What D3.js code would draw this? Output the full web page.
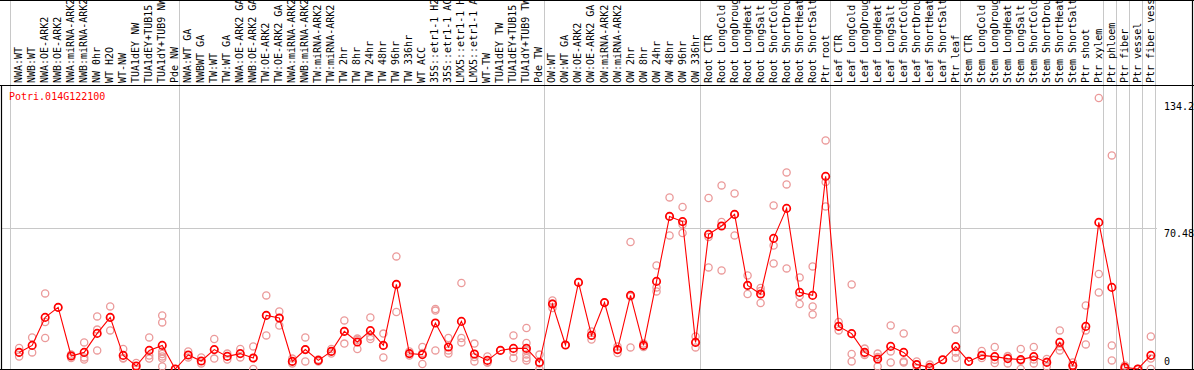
<!DOCTYPE html>
<html>
<head>
<meta charset="utf-8">
<script src="https://cdn.jsdelivr.net/npm/d3@7"></script>
<style>
	html, body { margin: 0; padding: 0; background: #fff; }
	svg { display: block; }
	text { font-family: "DejaVu Sans Mono", "Liberation Mono", monospace; font-size: 10px; }
</style>
</head>
<body>
<div id="chart"></div>
<script>
	'use strict';

	var geneName = 'Potri.014G122100';

	var labels = [
		'NWA:WT', 'NWB:WT', 'NWA:OE-ARK2', 'NWB:OE-ARK2', 'NWA:miRNA-ARK2', 'NWB:miRNA-ARK2', 'NW 0hr', 'WT H2O', 'WT-NW',
		'TUA1dEY NW', 'TUA1dEY+TUB15 NW', 'TUA1dY+TUB9 NW', 'Pde NW',
		'NWA:WT GA', 'NWBWT GA', 'TW:WT', 'TW:WT GA', 'NWA:OE-ARK2 GA', 'NWB:OE-ARK2 GA', 'TW:OE-ARK2', 'TW:OE-ARK2 GA',
		'NWA:miRNA-ARK2', 'NWB:miRNA-ARK2', 'TW:miRNA-ARK2', 'TW:miRNA-ARK2', 'TW 2hr', 'TW 8hr', 'TW 24hr', 'TW 48hr',
		'TW 96hr', 'TW 336hr', 'WT ACC', '35S::etr1-1 H2O', '35S::etr1-1 ACC', 'LMX5::etr1-1 H2O', 'LMX5::etr1-1 ACC',
		'WT-TW', 'TUA1dEY TW', 'TUA1dEY+TUB15 TW', 'TUA1dY+TUB9 TW', 'Pde TW',
		'OW:WT', 'OW:WT GA', 'OW:OE-ARK2', 'OW:OE-ARK2 GA', 'OW:miRNA-ARK2', 'OW:miRNA-ARK2', 'OW 2hr', 'OW 8hr',
		'OW 24hr', 'OW 48hr', 'OW 96hr', 'OW 336hr',
		'Root CTR', 'Root LongCold', 'Root LongDrought', 'Root LongHeat', 'Root LongSalt', 'Root ShortCold',
		'Root ShortDrought', 'Root ShortHeat', 'Root ShortSalt', 'Ptr root',
		'Leaf CTR', 'Leaf LongCold', 'Leaf LongDrought', 'Leaf LongHeat', 'Leaf LongSalt', 'Leaf ShortCold',
		'Leaf ShortDrought', 'Leaf ShortHeat', 'Leaf ShortSalt', 'Ptr leaf',
		'Stem CTR', 'Stem LongCold', 'Stem LongDrought', 'Stem LongHeat', 'Stem LongSalt', 'Stem ShortCold',
		'Stem ShortDrought', 'Stem ShortHeat', 'Stem ShortSalt', 'Ptr shoot', 'Ptr xylem',
		'Ptr phloem', 'Ptr fiber', 'Ptr vessel', 'Ptr fiber vessel'
	];

	// first column of each block (last entry closes the chart)
	var groupStarts = [0, 13, 41, 53, 63, 73, 84, 85, 86, 87, 88];

	var means = [
		8.3, 11.8, 25.8, 30.8, 6.5, 8.3, 17.8, 25.8, 6.8, 1.5, 9.3, 11.8, 0,
		7, 4, 9.7, 6.3, 7.7, 5.5, 26.8, 25.5, 3.8, 9.7, 4.3, 8.8, 18.8, 13.5, 19.2, 11.8, 42.3, 7.7, 7.2, 23,
		11, 23.8, 7.5, 4.3, 9.3, 10.3, 10.3, 3.3,
		32.5, 12, 43.3, 16.8, 33.2, 9.7, 36.8, 11.8, 43.8, 76.3, 73.7, 13.3,
		67.3, 71.5, 77.3, 41.8, 37.5, 65.3, 80.3, 38.3, 36.8, 96.3,
		21.3, 17.7, 8.3, 5, 11.3, 8.3, 2.2, 0.8, 4.6, 11.2,
		3.8, 6.8, 6.2, 5.2, 4.7, 6.2, 3.3, 13.3, 1.7, 21.3, 73.3,
		40.8, 0.8, 0, 6.8
	];

	var replicates = [
		[10.5, 8.3, 6.2], [15.8, 8.3], [37.8, 23.5, 15.5], [30.8], [7.2, 5.5], [13.3, 5.8, 4.7],
		[26.3, 19.7, 9.3], [31.3, 25.8, 19.3], [10, 5.5, 5.2], [3, 0], [15.8, 6.7, 5.2],
		[26.8, 23.3, 8.8, 7.5, 6.3, 5.2, 1.3], [0],
		[8.8, 5.8], [5.8, 2.8], [15, 5.2], [7.7, 4.7], [10, 5.8], [11.3, 5.5, 0], [36.8, 26.8, 16.8],
		[28.8, 25.5, 21.7], [5.2, 3.8, 2.8], [15.8, 9.7, 3.8], [4.7, 4.3, 3.8], [10, 8.8, 7.7],
		[24.3, 18.8, 12.7], [15.2, 14.5, 10], [25.8, 16.3, 15], [17.7, 11.8, 5.8], [56.3, 42.3, 28.5],
		[8.8, 7.7, 6.7], [11, 8, 2.5], [30, 29.2, 9.3], [15.5, 9.3, 7.7], [43, 15.5, 13.3],
		[12.7, 6, 3.8], [6.3, 3.3, 3.3], [9.3], [16.8, 8.6, 5.5], [20.5, 13, 9.3, 7.2, 5.5, 4.3], [7.2, 2.8, 0],
		[34.3, 32.7, 30.5], [12], [43.3], [18.8, 16.8, 14.7], [33.2], [11.3, 9.7, 8], [63.5, 36.2, 10.8],
		[12.7, 11.8, 11], [51.8, 40.8, 38.8], [85.8, 76.3, 66.8], [81, 72.2, 68], [16.3, 13.3, 10.8],
		[85.5, 66, 50.8], [91.8, 73.5, 49.3], [87.8, 77.3, 66.8], [46.8, 41.8, 37.5], [40.5, 39, 33],
		[81.8, 61.7, 52.8], [98.3, 92.3, 50.3], [45.8, 36.5, 32.5], [51.3, 31.3, 27.3], [114.3, 93.5, 81.3],
		[23.5, 21.3, 19.3], [42.3, 7.5, 3.8], [10.2, 7.7, 7], [7.7, 6, 1.3], [21.8, 8.8, 3.3], [17.8, 3.8, 3.3],
		[3.8, 2.2, 0.6], [2.2, 0.3, 0], [4.6], [19.8, 8.3, 5.5],
		[3.8], [9, 6.8, 5.5], [11, 4.6, 3], [6.3, 6.5, 2.8], [10, 4.1, 0], [11, 4.8, 2.8], [5, 3.6, 1.3],
		[19.3, 11.3, 9.3], [3.3, 1.8, 0], [31.8, 19.3, 12.3], [135.5, 47.5, 38.3],
		[106.8, 11.8, 4.3], [1.8, 0.6, 0], [0, 0], [16.3, 5.2, 0]
	];

	var yTicks = [0, 70.48, 134.2];

	var width = 1194,
		height = 370,
		labelBottom = 83,
		plotTop = 85,
		plotBottom = 369,
		plotRight = 1155,
		maxChars = 14; // header only has room for this many characters

	var svg = d3.select('#chart')
		.append('svg')
			.attr('width', width)
			.attr('height', height);

	var idx = d3.range(labels.length);

	var x = d3.scaleBand()
		.domain(idx)
		.range([10.3, plotRight]);

	// marks sit a little right of the column middle, like the original
	function cx(i) { return x(i) + x.step() * 0.68; }
	function colEdge(k) { return k < labels.length ? x(k) : x.range()[1]; }

	var y = d3.scaleLinear()
		.domain([0, 134.2])
		.range([plotBottom, plotBottom - 134.2 * 2.0]);

	// grid
	svg.selectAll('line.vgrid')
		.data(groupStarts).enter()
		.append('line')
			.attr('class', 'vgrid')
			.attr('x1', function(k) { return Math.round(colEdge(k)) + 0.5; })
			.attr('x2', function(k) { return Math.round(colEdge(k)) + 0.5; })
			.attr('y1', 0)
			.attr('y2', height)
			.attr('stroke', '#c8c8c8')
			.attr('stroke-width', 1);

	svg.append('line')
		.attr('x1', 1)
		.attr('x2', plotRight + 2)
		.attr('y1', Math.round(y(70.48)) + 0.5)
		.attr('y2', Math.round(y(70.48)) + 0.5)
		.attr('stroke', '#c8c8c8');

	// frame
	var frame = svg.append('g')
		.attr('stroke', '#000')
		.attr('stroke-width', 1.2);
	frame.append('line').attr('x1', 0).attr('x2', width).attr('y1', 0.5).attr('y2', 0.5);
	frame.append('line').attr('x1', 0).attr('x2', width).attr('y1', plotTop + 0.5).attr('y2', plotTop + 0.5);
	frame.append('line').attr('x1', 0).attr('x2', width).attr('y1', plotBottom + 0.5).attr('y2', plotBottom + 0.5);
	frame.append('line').attr('x1', 1.5).attr('x2', 1.5).attr('y1', plotTop).attr('y2', height);
	frame.append('line').attr('x1', width - 1.5).attr('x2', width - 1.5).attr('y1', 0).attr('y2', height);

	// column labels, shortened to what fits in the header band
	svg.selectAll('text.col')
		.data(idx).enter()
		.append('text')
			.attr('class', 'col')
			.attr('transform', function(i) { return 'translate(' + (cx(i) - 0.5) + ',' + labelBottom + ') rotate(-90)'; })
			.attr('dominant-baseline', 'central')
			.attr('fill', '#000')
			.text(function(i) { return labels[i].slice(0, maxChars).replace(/\s+$/, ''); })
			.append('title')
				.text(function(i) { return labels[i]; });

	// y axis labels on the right
	svg.selectAll('text.ytick')
		.data(yTicks).enter()
		.append('text')
			.attr('class', 'ytick')
			.attr('x', 1164)
			.attr('y', function(d) { return d === 0 ? y(d) - 4 : y(d) + 9; })
			.attr('fill', '#000')
			.text(function(d) { return d; });

	svg.append('text')
		.attr('x', 9)
		.attr('y', 100)
		.attr('fill', '#ff0000')
		.text(geneName);

	// replicate points
	var reps = [];
	replicates.forEach(function(list, i) {
		list.forEach(function(v) { reps.push({i: i, v: v}); });
	});

	svg.selectAll('circle.rep')
		.data(reps).enter()
		.append('circle')
			.attr('class', 'rep')
			.attr('cx', function(d) { return cx(d.i); })
			.attr('cy', function(d) { return y(d.v); })
			.attr('r', 3.6)
			.attr('fill', 'none')
			.attr('stroke', '#eb9a9a')
			.attr('stroke-width', 1.3);

	// mean line + points
	var line = d3.line()
		.x(function(d, i) { return cx(i); })
		.y(function(d) { return y(d); });

	svg.append('path')
		.datum(means)
		.attr('d', line)
		.attr('fill', 'none')
		.attr('stroke', '#ff0000')
		.attr('stroke-width', 1.1);

	svg.selectAll('circle.mean')
		.data(means).enter()
		.append('circle')
			.attr('class', 'mean')
			.attr('cx', function(d, i) { return cx(i); })
			.attr('cy', function(d) { return y(d); })
			.attr('r', 3.7)
			.attr('fill', 'none')
			.attr('stroke', '#ff0000')
			.attr('stroke-width', 1.7);
</script>
</body>
</html>
